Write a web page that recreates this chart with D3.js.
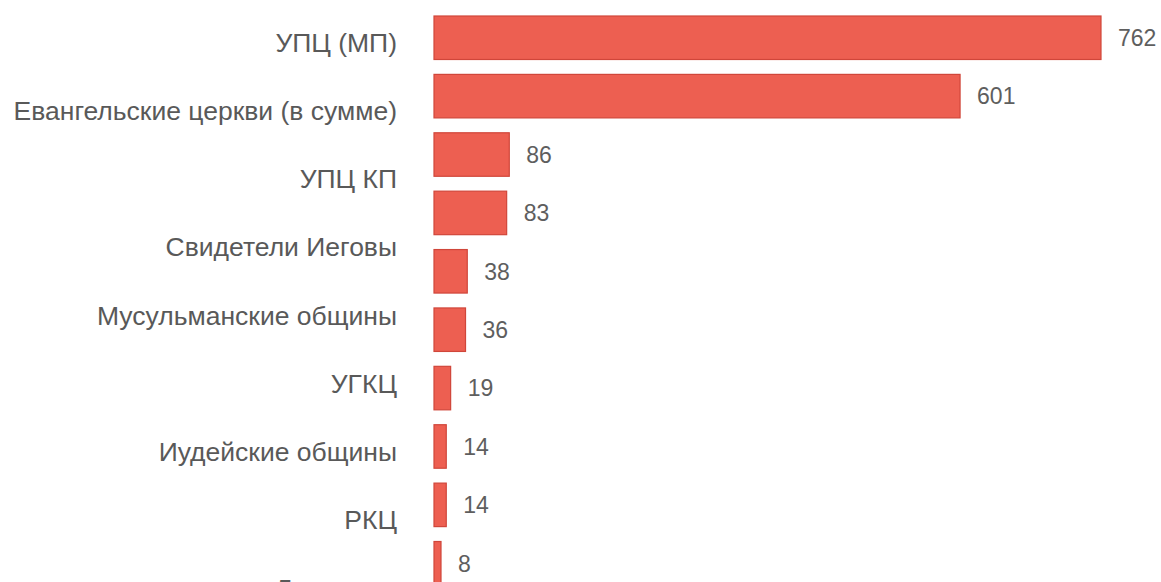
<!DOCTYPE html>
<html lang="ru">
  <head>
    <meta charset="UTF-8">
    <title>Религиозные организации</title>
    <style>
      body { margin: 0; background: #fff; overflow: hidden; }
      .cat-label {
        font-family: "Liberation Sans", Arial, sans-serif;
        font-size: 26.5px;
        fill: #595959;
      }
      .val-label {
        font-family: "Liberation Sans", Arial, sans-serif;
        font-size: 23px;
        fill: #5e5e5e;
      }
      .bar {
        fill: rgb(237, 95, 81);
        stroke: rgb(208, 70, 58);
        stroke-width: 1.2;
      }
    </style>
    <script src="https://d3js.org/d3.v7.min.js"></script>
  </head>
  <body>
    <script>
      const width = 1161;
      const height = 582;

      // labels on the left (their spacing differs from the bars in the original)
      const labels = [
        "УПЦ (МП)",
        "Евангельские церкви (в сумме)",
        "УПЦ КП",
        "Свидетели Иеговы",
        "Мусульманские общины",
        "УГКЦ",
        "Иудейские общины",
        "РКЦ",
        "Лютеране"
      ];

      // bar values, top to bottom
      const values = [762, 601, 86, 83, 38, 36, 19, 14, 14, 8];

      const svg = d3.select("body")
        .append("svg")
        .attr("width", width)
        .attr("height", height);

      const x = d3.scaleLinear()
        .domain([0, 762])
        .range([434, 1101]);

      const yBar = d3.scaleBand()
        .domain(d3.range(values.length))
        .range([16, 585])
        .paddingInner(0.255);

      const yLabel = d3.scalePoint()
        .domain(labels)
        .range([42, 588]);

      svg.selectAll(".bar")
        .data(values)
        .enter()
        .append("rect")
        .attr("class", "bar")
        .attr("x", x(0))
        .attr("y", (d, i) => yBar(i))
        .attr("width", d => x(d) - x(0))
        .attr("height", yBar.bandwidth());

      svg.selectAll(".val-label")
        .data(values)
        .enter()
        .append("text")
        .attr("class", "val-label")
        .attr("x", d => x(d) + 17)
        .attr("y", (d, i) => yBar(i) + yBar.bandwidth() / 2)
        .attr("dy", "0.36em")
        .text(d => d);

      svg.selectAll(".cat-label")
        .data(labels)
        .enter()
        .append("text")
        .attr("class", "cat-label")
        .attr("x", 397)
        .attr("y", d => yLabel(d))
        .attr("dy", "0.36em")
        .attr("text-anchor", "end")
        .text(d => d);
    </script>
  </body>
</html>
